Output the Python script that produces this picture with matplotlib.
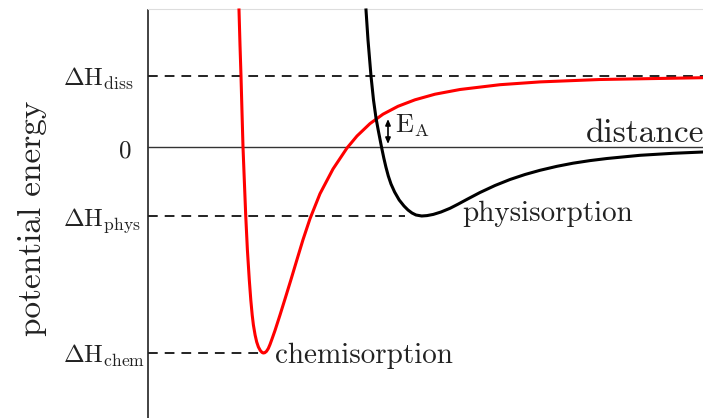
import numpy as np
import matplotlib
matplotlib.use("Agg")
import matplotlib.pyplot as plt

# 字体: Computer Modern
plt.rcParams['mathtext.fontset'] = 'cm'
plt.rcParams['font.family'] = ['cmr10', 'DejaVu Serif']
plt.rcParams['axes.unicode_minus'] = False

# energy levels (arbitrary units, 0 = dissociated reference)
dH_diss = 71
dH_phys = -69
dH_chem = -206

# chemisorption curve (red)
chem_d = [91, 92, 93, 94, 95, 96.3, 97.7, 99.4, 101.3, 102.8, 104.2, 105.4, 107.1, 108.7,
          110.4, 112.3, 114, 115.3,
          116.8, 118.5, 120.3, 122, 124, 127, 132, 137, 143, 149, 155, 162, 172, 185, 199,
          209, 222, 235, 250, 267, 287, 312, 352, 392, 452, 555]
chem_e = [137, 102, 71, 35, 0, -33, -68, -103, -133, -153, -168, -178, -188, -195,
          -200, -203.5, -205.4, -206,
          -205.7, -204.3, -201.5, -197.5, -192, -183.5, -168, -152, -132.5, -112.5, -92.7,
          -71.7, -46.7, -22, -1, 11, 23.4, 32.8, 40.7, 47.2, 52.8, 57.5, 62.3, 65.1, 67.5, 69.3]

# physisorption curve (black)
phys_d = [218, 220, 223, 225.5, 228, 230.2, 233.5, 235.8, 237.9, 240.3, 243, 246.6, 251.2,
          256, 260, 264, 268, 273.7,
          279, 285.3, 293, 302, 310, 318.7, 332, 347, 362, 377, 392, 409, 425, 442, 459,
          492, 525, 555]
phys_e = [137, 107, 71, 47, 29, 17, 0, -11, -20, -29, -37, -45, -53,
          -59, -63, -66, -68, -69,
          -68.6, -67.4, -65, -61.3, -57.2, -52.5, -45.5, -38.5, -32.5, -27.5, -23.3, -19.3,
          -16.2, -13.6, -11.5, -8.3, -6.3, -5]

fig = plt.figure(figsize=(7.03, 4.18), dpi=100)
ax = fig.add_axes([0, 0, 1, 1])
ax.set_xlim(-148, 555)
ax.set_ylim(-271, 147)
ax.axis('off')

txt = '#222222'
dash = (0, (5.0, 3.6))

# axes
ax.plot([0, 0], [-271, 137], color='#222222', lw=1.2)
ax.plot([0, 555], [0, 0], color='#333333', lw=1.0)
ax.plot([0, 555], [138, 138], color='#dddddd', lw=0.8)

# dashed levels
ax.plot([0, 555], [dH_diss, dH_diss], color='#222222', lw=1.4, linestyle=dash)
ax.plot([0, 257], [dH_phys, dH_phys], color='#222222', lw=1.4, linestyle=dash)
ax.plot([0, 114], [dH_chem, dH_chem], color='#222222', lw=1.4, linestyle=dash)

# curves
ax.plot(chem_d, chem_e, color='#ff0000', lw=2.2, solid_joinstyle='round')
ax.plot(phys_d, phys_e, color='black', lw=2.2, solid_joinstyle='round')

# activation energy arrow
ax.annotate('', xy=(240, 3), xytext=(240, 28),
            arrowprops=dict(arrowstyle='<|-|>,head_length=0.35,head_width=0.15',
                            color='black', lw=1.2, shrinkA=0, shrinkB=0))
ax.text(247, 14, r'$\mathrm{E}_{\mathrm{A}}$', fontsize=19, color=txt, va='baseline')

# y labels
ax.text(-85, dH_diss - 10, r'$\Delta\mathrm{H}_{\mathrm{diss}}$', fontsize=18, color=txt, va='baseline')
ax.text(-85, dH_phys - 10, r'$\Delta\mathrm{H}_{\mathrm{phys}}$', fontsize=18, color=txt, va='baseline')
ax.text(-85, dH_chem - 10, r'$\Delta\mathrm{H}_{\mathrm{chem}}$', fontsize=18, color=txt, va='baseline')
ax.text(-17, -10, '0', fontsize=18, color=txt, va='baseline', ha='right')
ax.text(-116, -71, 'potential energy', fontsize=24, color=txt, rotation=90,
        ha='center', va='center')

# curve labels
ax.text(438, 5, 'distance', fontsize=24, color=txt, va='baseline')
ax.text(314, -74, 'physisorption', fontsize=21, color=txt, va='baseline')
ax.text(127, -216, 'chemisorption', fontsize=21, color=txt, va='baseline')

fig.savefig('out.png', dpi=100)
